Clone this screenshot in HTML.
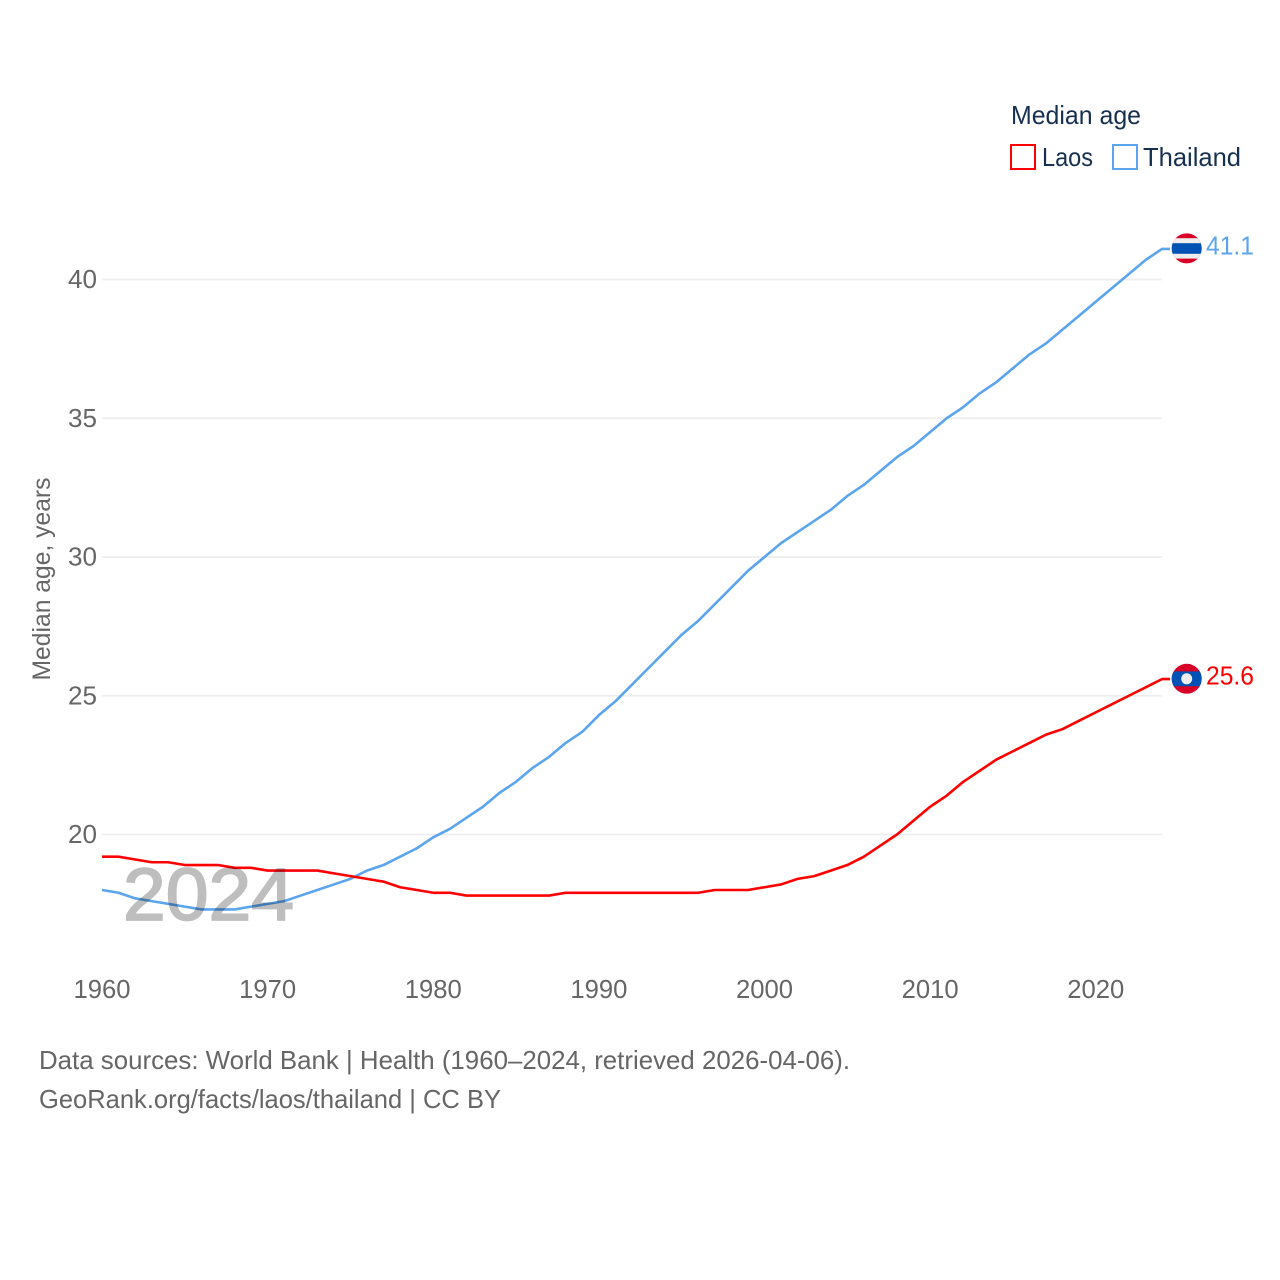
<!DOCTYPE html>
<html>
<head>
<meta charset="utf-8">
<title>Median age: Laos and Thailand</title>
<style>
html,body{margin:0;padding:0;background:#fff;width:1280px;height:1280px;overflow:hidden}
svg{display:block}
text{font-family:"Liberation Sans",sans-serif}
</style>
</head>
<body>
<svg id="chart" xmlns="http://www.w3.org/2000/svg" width="1280" height="1280" viewBox="0 0 1280 1280">
  <defs>
    <clipPath id="clip-th"><circle cx="1186.7" cy="248.4" r="15"/></clipPath>
    <clipPath id="clip-la"><circle cx="1186.7" cy="678.8" r="15"/></clipPath>
  </defs>
  <g id="grid"></g>
  <g id="ylabels"></g>
  <g id="xlabels"></g>
  <text transform="translate(50,579) rotate(-90)" text-anchor="middle" font-size="25" fill="#666" textLength="203" lengthAdjust="spacingAndGlyphs">Median age, years</text>
  <g id="series"></g>
  <text id="year" x="123" y="920" font-size="74" fill="#000" stroke="#000" stroke-width="1.8" opacity="0.25" textLength="171" lengthAdjust="spacingAndGlyphs">2024</text>

  <g id="flag-thailand" clip-path="url(#clip-th)">
    <rect x="1171" y="233" width="32" height="31" fill="#d80027"/>
    <rect x="1171" y="238.2" width="32" height="20.4" fill="#eeeeee"/>
    <rect x="1171" y="243.2" width="32" height="10.6" fill="#0052b4"/>
  </g>
  <g id="flag-laos" clip-path="url(#clip-la)">
    <rect x="1171" y="663" width="32" height="32" fill="#d80027"/>
    <rect x="1171" y="671.4" width="32" height="14.8" fill="#0052b4"/>
    <circle cx="1186.7" cy="678.8" r="5.5" fill="#eeeeee"/>
  </g>
  <g id="values"></g>

  <g>
    <text x="1011" y="124" font-size="26" fill="#18304f" textLength="130" lengthAdjust="spacingAndGlyphs">Median age</text>
    <g>
      <rect x="1011" y="145" width="24" height="24" fill="none" stroke="#ff0000" stroke-width="2"/>
      <text x="1042" y="166" font-size="26" fill="#18304f" textLength="51" lengthAdjust="spacingAndGlyphs">Laos</text>
    </g>
    <g>
      <rect x="1113" y="145" width="24" height="24" fill="none" stroke="#5ba4ee" stroke-width="2"/>
      <text x="1143" y="166" font-size="26" fill="#18304f" textLength="98" lengthAdjust="spacingAndGlyphs">Thailand</text>
    </g>
  </g>

  <text x="39" y="1069" font-size="26" fill="#666" textLength="811" lengthAdjust="spacingAndGlyphs">Data sources: World Bank | Health (1960–2024, retrieved 2026-04-06).</text>
  <text x="39" y="1108" font-size="26" fill="#666" textLength="462" lengthAdjust="spacingAndGlyphs">GeoRank.org/facts/laos/thailand | CC BY</text>
</svg>
<script>
const startYear = 1960;
const laosValues = [19.2,19.2,19.1,19.0,19.0,18.9,18.9,18.9,18.8,18.8,18.7,18.7,18.7,18.7,18.6,18.5,18.4,18.3,18.1,18.0,17.9,17.9,17.8,17.8,17.8,17.8,17.8,17.8,17.9,17.9,17.9,17.9,17.9,17.9,17.9,17.9,17.9,18.0,18.0,18.0,18.1,18.2,18.4,18.5,18.7,18.9,19.2,19.6,20.0,20.5,21.0,21.4,21.9,22.3,22.7,23.0,23.3,23.6,23.8,24.1,24.4,24.7,25.0,25.3,25.6];
const thailandValues = [18.0,17.9,17.7,17.6,17.5,17.4,17.3,17.3,17.3,17.4,17.5,17.6,17.8,18.0,18.2,18.4,18.7,18.9,19.2,19.5,19.9,20.2,20.6,21.0,21.5,21.9,22.4,22.8,23.3,23.7,24.3,24.8,25.4,26.0,26.6,27.2,27.7,28.3,28.9,29.5,30.0,30.5,30.9,31.3,31.7,32.2,32.6,33.1,33.6,34.0,34.5,35.0,35.4,35.9,36.3,36.8,37.3,37.7,38.2,38.7,39.2,39.7,40.2,40.7,41.1];
const yTicks = [20,25,30,35,40];
const xTicks = [1960,1970,1980,1990,2000,2010,2020];

const NS = 'http://www.w3.org/2000/svg';
function xScale(year){ return 102 + (year - 1960) * 16.5625; }
function yScale(v){ return 834.5 - (v - 20) * 27.75; }
function make(parent, tag, attrs){
  const el = document.createElementNS(NS, tag);
  for (const k in attrs) el.setAttribute(k, attrs[k]);
  parent.appendChild(el);
  return el;
}

const grid = document.getElementById('grid');
const ylabels = document.getElementById('ylabels');
yTicks.forEach(function(t){
  const line = make(grid, 'line', {x1:102, x2:1162, y1:yScale(t), y2:yScale(t), stroke:'#eeeeee', 'stroke-width':1.8});
  
  
  const label = make(ylabels, 'text', {x:68, y:yScale(t)+8.5, 'font-size':26, fill:'#666', textLength:29, lengthAdjust:'spacingAndGlyphs'});
  label.textContent = String(t);
  
  
});

const xlabels = document.getElementById('xlabels');
xTicks.forEach(function(t){
  const label = make(xlabels, 'text', {x:xScale(t)-28.5, y:998, 'font-size':26, fill:'#666', textLength:57, lengthAdjust:'spacingAndGlyphs'});
  label.textContent = String(t);
  
  
});

function drawSeries(values, color, key){
  const pts = values.map(function(v, i){ return xScale(startYear + i).toFixed(2) + ',' + yScale(v).toFixed(2); });
  const last = values[values.length - 1];
  pts.push('1170,' + yScale(last).toFixed(2));
  const series = document.getElementById('series');
  const line = make(series, 'polyline', {points:pts.join(' '), fill:'none', stroke:color, 'stroke-width':2.6, 'stroke-linejoin':'round'});
  
  
  const valueGroup = document.getElementById('values');
  const label = make(valueGroup, 'text', {x:1206, y:yScale(last)+5.5, 'font-size':26, fill:color, textLength:48, lengthAdjust:'spacingAndGlyphs'});
  label.textContent = last.toFixed(1);
  
  
}
drawSeries(thailandValues, '#5ba4ee', 'thailand');
drawSeries(laosValues, '#ff0000', 'laos');
</script>
</body>
</html>
